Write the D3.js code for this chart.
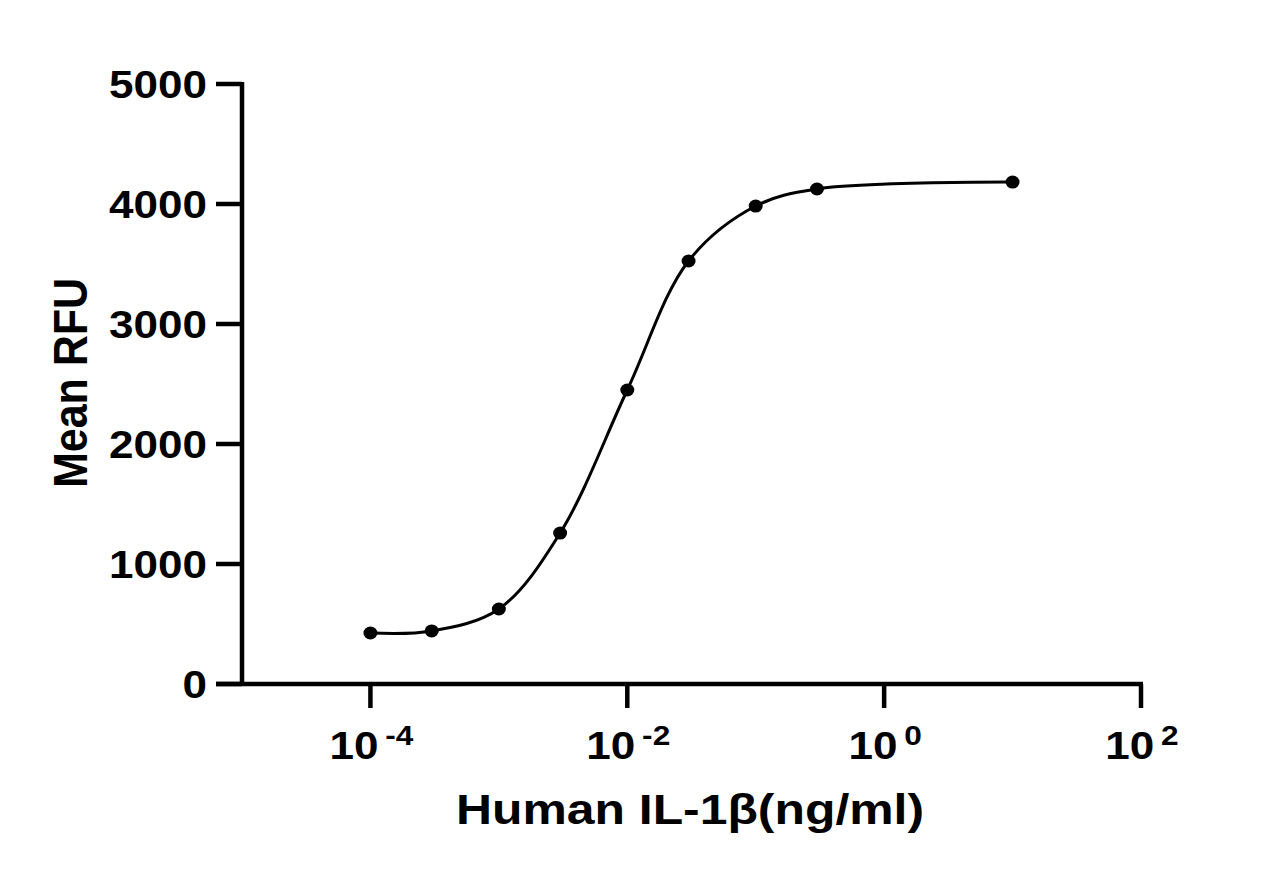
<!DOCTYPE html>
<html lang="en">
<head>
    <meta charset="UTF-8">
    <title>Human IL-1β dose response</title>
    <style>
        body {
            margin: 0;
            padding: 0;
            background-color: #ffffff;
        }
        svg {
            display: block;
            background-color: white;
            font-family: "Liberation Sans", Arial, sans-serif;
            font-weight: bold;
        }
    </style>
</head>
<body>
    <svg width="1284" height="886"></svg>

    <script src="https://d3js.org/d3.v7.min.js"></script>

    <script>
        // Concentration (ng/ml) and mean RFU
        let concentrations = [0.0001, 0.0003, 0.001, 0.003, 0.01, 0.03, 0.1, 0.3, 10];
        let meanRFU = [425, 442, 625, 1258, 2450, 3525, 3983, 4125, 4183];

        let yTicks = [0, 1000, 2000, 3000, 4000, 5000];
        let xTickExponents = [-4, -2, 0, 2];

        let svg = d3.select("svg");
        let ink = "#000000";

        // Scales: the picture is slightly wider than the font metrics, hence stretch
        let stretch = 1.13;
        let x = d3.scaleLog().domain([1e-5, 1e2]).range([242, 1141]);
        let y = d3.scaleLinear().domain([0, 5000]).range([684, 84]);

        // Y axis
        svg.append("line")
            .attr("x1", x.range()[0]).attr("x2", x.range()[0])
            .attr("y1", y(5000) - 2).attr("y2", y(0) + 2)
            .attr("stroke", ink).attr("stroke-width", 4.5);

        svg.selectAll(".ytick")
            .data(yTicks)
            .enter()
            .append("line")
            .attr("class", "ytick")
            .attr("x1", x.range()[0] - 26).attr("x2", x.range()[0])
            .attr("y1", d => y(d)).attr("y2", d => y(d))
            .attr("stroke", ink).attr("stroke-width", 4.5);

        svg.selectAll(".ylabel")
            .data(yTicks)
            .enter()
            .append("text")
            .attr("class", "ylabel")
            .attr("transform", d => `translate(207, ${y(d) + 14}) scale(${stretch}, 1)`)
            .attr("text-anchor", "end")
            .style("font-size", "39px")
            .attr("fill", ink)
            .text(d => d);

        // X axis
        svg.append("line")
            .attr("x1", x.range()[0] - 26).attr("x2", x.range()[1] + 2)
            .attr("y1", y(0)).attr("y2", y(0))
            .attr("stroke", ink).attr("stroke-width", 4.5);

        svg.selectAll(".xtick")
            .data(xTickExponents)
            .enter()
            .append("line")
            .attr("class", "xtick")
            .attr("x1", d => x(Math.pow(10, d))).attr("x2", d => x(Math.pow(10, d)))
            .attr("y1", y(0)).attr("y2", y(0) + 24)
            .attr("stroke", ink).attr("stroke-width", 4.5);

        let xLabels = svg.selectAll(".xlabel")
            .data(xTickExponents)
            .enter()
            .append("text")
            .attr("class", "xlabel")
            .attr("transform", d => `translate(${x(Math.pow(10, d)) + 1}, 759) scale(${stretch}, 1)`)
            .attr("text-anchor", "middle")
            .attr("fill", ink);

        xLabels.append("tspan")
            .style("font-size", "39px")
            .text("10");
        xLabels.append("tspan")
            .attr("dx", 6)
            .attr("dy", -14)
            .style("font-size", "28px")
            .text(d => d < 0 ? "-" + Math.abs(d) : d);

        // Axis titles
        svg.append("text")
            .attr("transform", `translate(690, 824) scale(1.16, 1)`)
            .attr("text-anchor", "middle")
            .style("font-size", "43px")
            .attr("fill", ink)
            .text("Human IL-1β(ng/ml)");

        svg.append("text")
            .attr("transform", `translate(87, 383) scale(${stretch}, 1) rotate(-90)`)
            .attr("text-anchor", "middle")
            .style("font-size", "43px")
            .attr("fill", ink)
            .text("Mean RFU");

        // Smooth curve through the points
        let points = concentrations.map((c, i) => [c, meanRFU[i]]);

        let line = d3.line()
            .x(d => x(d[0]))
            .y(d => y(d[1]))
            .curve(d3.curveCatmullRom.alpha(0.5));

        svg.append("path")
            .datum(points)
            .attr("d", line)
            .attr("fill", "none")
            .attr("stroke", ink)
            .attr("stroke-width", 3);

        svg.selectAll(".dot")
            .data(points)
            .enter()
            .append("ellipse")
            .attr("class", "dot")
            .attr("cx", d => x(d[0]))
            .attr("cy", d => y(d[1]))
            .attr("rx", 7)
            .attr("ry", 6.5)
            .attr("fill", ink);
    </script>
</body>
</html>
